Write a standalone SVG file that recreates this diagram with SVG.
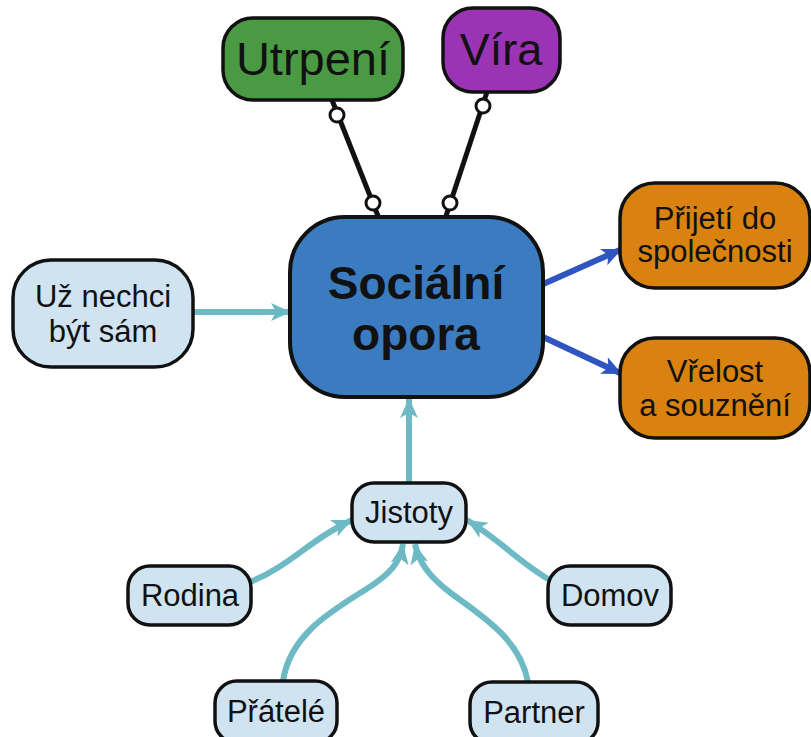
<svg xmlns="http://www.w3.org/2000/svg" width="811" height="737" viewBox="0 0 811 737">
<style>
  text { font-family: "Liberation Sans", Arial, sans-serif; fill: #111; text-anchor: middle; }
  .node { stroke: #111; stroke-width: 3.5; }
  .small { fill: #cfe3f1; }
  .t30 { font-size: 31px; }
  .teal { fill: none; stroke: #6dbac5; stroke-width: 6; }
  .blue { fill: none; stroke: #2f55c2; stroke-width: 6; }
  .blk { fill: none; stroke: #111; stroke-width: 5; }
  .knob { fill: #fff; stroke: #111; stroke-width: 3; }
</style>
<defs>
  <marker id="ahTeal" markerUnits="userSpaceOnUse" markerWidth="22" markerHeight="20" refX="20" refY="10" orient="auto">
    <path d="M0,1 L20,10 L0,19 L5,10 Z" fill="#6dbac5"/>
  </marker>
  <marker id="ahBlue" markerUnits="userSpaceOnUse" markerWidth="22" markerHeight="20" refX="20" refY="10" orient="auto">
    <path d="M0,1 L20,10 L0,19 L5,10 Z" fill="#2f55c2"/>
  </marker>
</defs>
<rect width="811" height="737" fill="#fff"/>

<g id="connectors">
  <line class="blk" x1="332" y1="100" x2="378" y2="216"/>
  <circle class="knob" cx="337" cy="115" r="7"/>
  <circle class="knob" cx="373" cy="203" r="7"/>
  <line class="blk" x1="487" y1="92" x2="446" y2="216"/>
  <circle class="knob" cx="483" cy="106" r="7"/>
  <circle class="knob" cx="450" cy="203" r="7"/>
  <path class="teal" d="M193,312 L291,312" marker-end="url(#ahTeal)"/>
  <path class="blue" d="M541,285 L622,249" marker-end="url(#ahBlue)"/>
  <path class="blue" d="M541,336 L622,374" marker-end="url(#ahBlue)"/>
  <path class="teal" d="M409,483 L409,398" marker-end="url(#ahTeal)"/>
  <path class="teal" d="M250,582 C290,566 312,538 352,520" marker-end="url(#ahTeal)"/>
  <path class="teal" d="M550,580 C520,563 500,540 467,520" marker-end="url(#ahTeal)"/>
  <path class="teal" d="M283,681 C290,635 330,612 365,590 C392,573 400,562 403,544" marker-end="url(#ahTeal)"/>
  <path class="teal" d="M528,682 C520,640 485,618 452,594 C428,576 419,562 415,544" marker-end="url(#ahTeal)"/>
</g>

<g id="utrpeni">
  <rect class="node" x="223" y="18" width="180" height="82" rx="30" fill="#4a9a44"/>
  <text x="313" y="75" font-size="47">Utrpení</text>
</g>
<g id="vira">
  <rect class="node" x="443" y="8" width="117" height="84" rx="30" fill="#9a33b4"/>
  <text x="501" y="65" font-size="45">Víra</text>
</g>
<g id="socialni-opora">
  <rect x="290" y="217" width="253" height="180" rx="55" fill="#3b7cc0" stroke="#111" stroke-width="4"/>
  <text x="416" y="299" font-size="46" font-weight="bold">Sociální</text>
  <text x="416" y="350" font-size="46" font-weight="bold">opora</text>
</g>
<g id="prijeti">
  <rect class="node" x="620" y="183" width="190" height="105" rx="35" fill="#d9820f"/>
  <text class="t30" x="715" y="229">Přijetí do</text>
  <text class="t30" x="715" y="262">společnosti</text>
</g>
<g id="vrelost">
  <rect class="node" x="620" y="338" width="190" height="100" rx="35" fill="#d9820f"/>
  <text class="t30" x="715" y="382">Vřelost</text>
  <text class="t30" x="715" y="416">a souznění</text>
</g>
<g id="uz-nechci">
  <rect class="node small" x="13" y="260" width="180" height="107" rx="38"/>
  <text class="t30" x="103" y="307">Už nechci</text>
  <text class="t30" x="103" y="342">být sám</text>
</g>
<g id="jistoty">
  <rect class="node small" x="352" y="483" width="114" height="59" rx="22"/>
  <text class="t30" x="409" y="523">Jistoty</text>
</g>
<g id="rodina">
  <rect class="node small" x="128" y="566" width="123" height="59" rx="22"/>
  <text class="t30" x="190" y="606">Rodina</text>
</g>
<g id="domov">
  <rect class="node small" x="548" y="566" width="123" height="59" rx="22"/>
  <text class="t30" x="610" y="606">Domov</text>
</g>
<g id="pratele">
  <rect class="node small" x="215" y="681" width="122" height="62" rx="22"/>
  <text class="t30" x="276" y="722">Přátelé</text>
</g>
<g id="partner">
  <rect class="node small" x="470" y="682" width="128" height="62" rx="22"/>
  <text class="t30" x="534" y="723">Partner</text>
</g>
</svg>
